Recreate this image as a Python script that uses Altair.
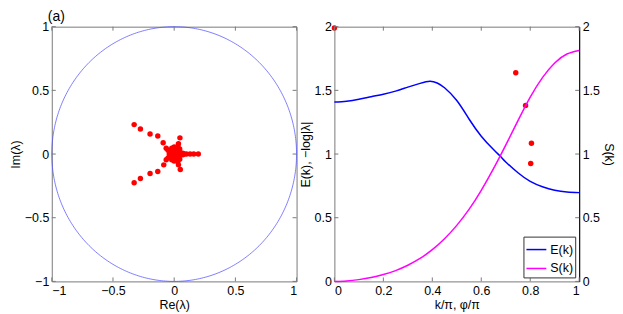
import altair as alt
import pandas as pd
import numpy as np

# ---------------- data ----------------
# left panel: eigenvalues lambda in the complex plane
re_vals = [-0.327, -0.276, -0.197, -0.134, -0.090,
           -0.327, -0.276, -0.197, -0.134, -0.085,
           0.197, 0.16, 0.13, 0.10, 0.08, 0.07, 0.07, 0.06,
           0.047, 0.035, 0.03, 0.05, 0.035, 0.03,
           0.0, 0.01, 0.02, -0.01, -0.02, 0.03, 0.03, 0.01, -0.01, 0.0,
           0.02, 0.02, -0.03, -0.035, -0.04, 0.04, 0.05, 0.05,
           -0.05, -0.05, -0.065, -0.065, 0.0, 0.0, -0.02, -0.02,
           0.01, -0.01, 0.045, 0.045, 0.015, 0.025, -0.005, 0.035]
im_vals = [0.231, 0.197, 0.158, 0.142, 0.088,
           -0.225, -0.192, -0.153, -0.137, -0.085,
           0.0, 0.0, 0.0, 0.0, 0.0, 0.006, -0.006, 0.0,
           0.127, 0.08, 0.06, -0.122, -0.085, -0.06,
           0.0, 0.01, -0.01, 0.02, -0.01, 0.02, -0.02, -0.03, -0.03, 0.035,
           0.04, -0.04, 0.01, -0.015, 0.0, 0.0, 0.01, -0.01,
           0.03, -0.03, 0.045, -0.045, 0.055, -0.055, 0.045, -0.045,
           0.0, 0.0, 0.04, -0.04, 0.025, -0.025, -0.02, 0.01]

# right panel curves
e_k = [0, 0.05, 0.1, 0.15, 0.2, 0.25, 0.3, 0.35, 0.39, 0.42, 0.45, 0.5,
       0.55, 0.6, 0.65, 0.68, 0.7, 0.75, 0.8, 0.85, 0.9, 0.95, 1.0]
e_vals = [1.408, 1.415, 1.43, 1.45, 1.47, 1.494, 1.525, 1.555, 1.572, 1.558,
          1.52, 1.42, 1.275, 1.14, 1.035, 0.978, 0.938, 0.853, 0.785, 0.743,
          0.716, 0.702, 0.697]
s_k = [0, 0.05, 0.1, 0.15, 0.2, 0.25, 0.3, 0.35, 0.4, 0.45, 0.5, 0.55, 0.6,
       0.65, 0.7, 0.75, 0.8, 0.85, 0.9, 0.95, 1.0]
s_vals = [0, 0.004, 0.014, 0.03, 0.054, 0.085, 0.127, 0.18, 0.249, 0.335, 0.44,
          0.565, 0.715, 0.885, 1.07, 1.262, 1.447, 1.6, 1.715, 1.785, 1.813]

# right panel: -log|lambda| against phi/pi
phi_vals = [0.0, 0.741, 0.781, 0.805, 0.802]
nlog_vals = [1.99, 1.638, 1.382, 1.085, 0.925]

series_names = ["E(k)", "S(k)"]
series_colors = ["#0000ff", "#ff00ff"]

left_ticks = [-1, -0.5, 0, 0.5, 1]
right_xticks = [0, 0.2, 0.4, 0.6, 0.8, 1]
right_yticks = [0, 0.5, 1, 1.5, 2]

# unit circle (geometry, not data)
theta = np.linspace(0, 2 * np.pi, 361)
circle = pd.DataFrame({"re": np.cos(theta), "im": np.sin(theta), "i": np.arange(361)})

W, H = 246, 256
FONT = "Liberation Sans"
FS = 12.5
BOX = "#7a7a7a"
TL = 4  # inward tick length (px)


def inward_ticks(xfield, yfield, xscale, yscale, xticks, yticks, xtitle, ytitle):
    tx = pd.DataFrame({xfield: xticks})
    ty = pd.DataFrame({yfield: yticks})
    base_x = alt.Chart(tx).mark_rule(color=BOX, strokeWidth=1)
    base_y = alt.Chart(ty).mark_rule(color=BOX, strokeWidth=1)
    xe = alt.X(f"{xfield}:Q", scale=xscale, title=xtitle)
    ye = alt.Y(f"{yfield}:Q", scale=yscale, title=ytitle)
    return [
        base_x.encode(x=xe, y=alt.value(H), y2=alt.value(H - TL)),
        base_x.encode(x=xe, y=alt.value(0), y2=alt.value(TL)),
        base_y.encode(y=ye, x=alt.value(0), x2=alt.value(TL)),
        base_y.encode(y=ye, x=alt.value(W - TL), x2=alt.value(W)),
    ]


eig = pd.DataFrame({"re": re_vals, "im": im_vals})
xl = alt.Scale(domain=[-1, 1], nice=False)
yl = alt.Scale(domain=[-1, 1], nice=False)

circle_line = alt.Chart(circle).mark_line(color="#4848ff", strokeWidth=0.7).encode(
    x=alt.X("re:Q", scale=xl, title="Re(λ)",
            axis=alt.Axis(values=left_ticks, format=".1~f")),
    y=alt.Y("im:Q", scale=yl, title="Im(λ)",
            axis=alt.Axis(values=left_ticks, format=".1~f")),
    order="i:Q",
)
eig_pts = alt.Chart(eig).mark_circle(color="#ff0000", size=30, opacity=1).encode(
    x=alt.X("re:Q", scale=xl, title="Re(λ)"), y=alt.Y("im:Q", scale=yl, title="Im(λ)")
)
left = alt.layer(
    circle_line, eig_pts,
    *inward_ticks("re", "im", xl, yl, left_ticks, left_ticks, "Re(λ)", "Im(λ)")
).properties(
    width=W, height=H,
    title=alt.TitleParams("(a)", anchor="start", frame="group", dx=-4,
                          fontSize=14, fontWeight="normal", font=FONT, offset=-3),
)

# right panel
edf = pd.DataFrame({"k": e_k, "v": e_vals, "series": series_names[0]})
sdf = pd.DataFrame({"k": s_k, "v": s_vals, "series": series_names[1]})
ddf = pd.DataFrame({"k": phi_vals, "v": nlog_vals})

xr = alt.Scale(domain=[0, 1], nice=False)
yr = alt.Scale(domain=[0, 2], nice=False)
col = alt.Color("series:N", scale=alt.Scale(domain=series_names, range=series_colors),
                legend=alt.Legend(title=None, orient="bottom-right", offset=4,
                                  symbolType="stroke", symbolSize=400,
                                  symbolStrokeWidth=1.5, fillColor="white",
                                  strokeColor="#333", padding=2, rowPadding=1,
                                  labelFontSize=FS, labelFont=FONT, labelOffset=3))

XT = "k/π, φ/π"
YT = "E(k), −log|λ|"
e_line = alt.Chart(edf).mark_line(strokeWidth=1.5, interpolate="natural").encode(
    x=alt.X("k:Q", scale=xr, title=XT,
            axis=alt.Axis(values=right_xticks, format=".1~f")),
    y=alt.Y("v:Q", scale=yr, title=YT,
            axis=alt.Axis(values=right_yticks, format=".1~f")),
    color=col,
)
dots = alt.Chart(ddf).mark_circle(color="#ff0000", size=30, opacity=1).encode(
    x=alt.X("k:Q", scale=xr, title=XT), y=alt.Y("v:Q", scale=yr, title=YT)
)
s_line = alt.Chart(sdf).mark_line(strokeWidth=1.5, interpolate="natural").encode(
    x=alt.X("k:Q", scale=xr, title=XT),
    y=alt.Y("v:Q", scale=yr, title="S(k)",
            axis=alt.Axis(values=right_yticks, format=".1~f", orient="right",
                          domain=True, domainColor="#000")),
    color=col,
)
right_main = alt.layer(
    e_line, dots,
    *inward_ticks("k", "v", xr, yr, right_xticks, right_yticks, XT, YT)
)
right = alt.layer(right_main, s_line).resolve_scale(y="independent").properties(
    width=W, height=H
)

chart = alt.hconcat(left, right, spacing=0).resolve_scale(
    color="independent"
).resolve_legend(color="independent").properties(
    padding={"left": 0, "top": 0, "right": 0, "bottom": 0}
).configure_view(stroke=BOX, strokeWidth=1).configure_axis(
    domain=False, grid=False, ticks=False,
    labelFont=FONT, titleFont=FONT, labelFontSize=FS, titleFontSize=FS,
    labelColor="#000", titleColor="#000", titleFontWeight="normal",
    labelPadding=3, titlePadding=2,
).configure_axisY(titlePadding=2)

chart.save("out.html", embed_options={"renderer": "svg", "actions": False})
